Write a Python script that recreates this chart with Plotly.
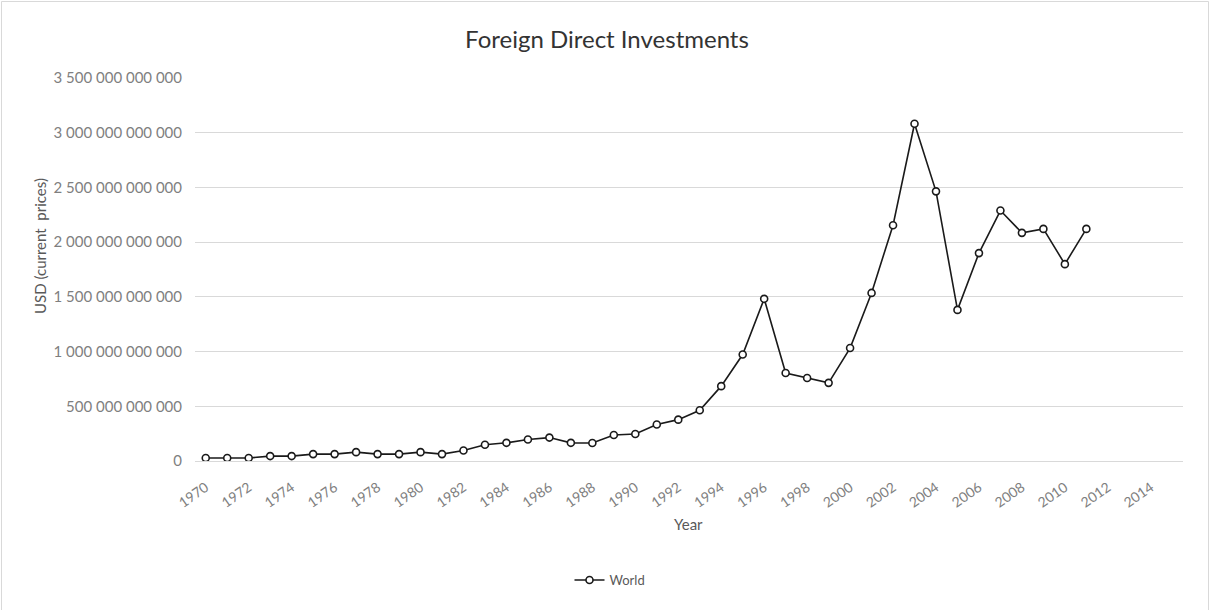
import plotly.graph_objects as go

years = list(range(1970, 2012))
# World FDI, billions of USD
fdi_billion = [27, 27, 27, 45, 45, 63, 63, 81, 63, 63,
               81, 63, 96, 148, 166, 196, 214, 166, 164, 238,
               247, 334, 378, 464, 684, 973, 1482, 804, 758, 714,
               1032, 1536, 2155, 3082, 2464, 1381, 1900, 2289, 2085, 2121,
               1799, 2121]
values = [v * 1e9 for v in fdi_billion]

x_tick_years = list(range(1970, 2016, 2))
y_ticks = [0, 500e9, 1000e9, 1500e9, 2000e9, 2500e9, 3000e9, 3500e9]

W, H = 1212, 610
ml, mr, mt, mb = 195, 29, 78, 149
pw, ph = W - ml - mr, H - mt - mb

FONT = "Lato"
GRAY = "#595959"
TICKGRAY = "#7f7f7f"


def px_x(px):
    return (px - ml) / pw


def px_y(py):
    return (mt + ph - py) / ph


fig = go.Figure()
fig.add_trace(go.Scatter(
    x=years, y=values, mode="lines+markers", name="World",
    line=dict(color="#1a1a1a", width=1.6),
    marker=dict(symbol="circle", size=7, color="white",
                line=dict(color="#1a1a1a", width=1.6)),
))

fig.update_layout(
    width=W, height=H,
    margin=dict(l=ml, r=mr, t=mt, b=mb),
    paper_bgcolor="white", plot_bgcolor="white",
    separators=". ",
    font=dict(family=FONT, color=GRAY, size=13),
    title=dict(text="Foreign Direct Investments", x=607 / W, xref="container",
               xanchor="center", y=1 - 40 / H, yanchor="middle",
               font=dict(size=24, color="#333333", family=FONT)),
    showlegend=True,
    legend=dict(x=px_x(610), xanchor="center", y=px_y(580),
                yanchor="middle", orientation="h",
                font=dict(size=13, color=GRAY)),
    xaxis=dict(range=[1969.5, 2015.5], tickmode="array", tickvals=x_tick_years,
               ticktext=[str(y) for y in x_tick_years], tickangle=-35,
               showgrid=False, zeroline=False, showline=True,
               linecolor="#d9d9d9", linewidth=1, ticks="", ticklabelstandoff=12,
               tickfont=dict(size=14, color=TICKGRAY)),
    yaxis=dict(range=[0, 3500e9], tickmode="array", tickvals=y_ticks,
               tickformat=",d", showgrid=True, gridcolor="#d9d9d9", gridwidth=1,
               zeroline=False, showline=False, ticks="", ticklabelstandoff=12,
               tickfont=dict(size=15, color=TICKGRAY)),
)

# axis titles as annotations (placed as in the reference)
fig.add_annotation(text="Year", xref="paper", yref="paper",
                   x=px_x(688), y=px_y(524), xanchor="center", yanchor="middle",
                   showarrow=False, font=dict(size=15, color=GRAY, family=FONT))
fig.add_annotation(text="USD (current  prices)", xref="paper", yref="paper",
                   x=px_x(40), y=px_y(246), xanchor="center", yanchor="middle",
                   textangle=-90, showarrow=False,
                   font=dict(size=15, color=GRAY, family=FONT))

# outer chart border
fig.add_shape(type="rect", xref="paper", yref="paper",
              x0=px_x(1.5), x1=px_x(1208.5), y0=px_y(612), y1=px_y(1.5),
              line=dict(color="#d9d9d9", width=1), fillcolor="rgba(0,0,0,0)", layer="below")

fig.write_html("out.html", config={"displayModeBar": False},
               post_script="document.body.style.margin='0';")
